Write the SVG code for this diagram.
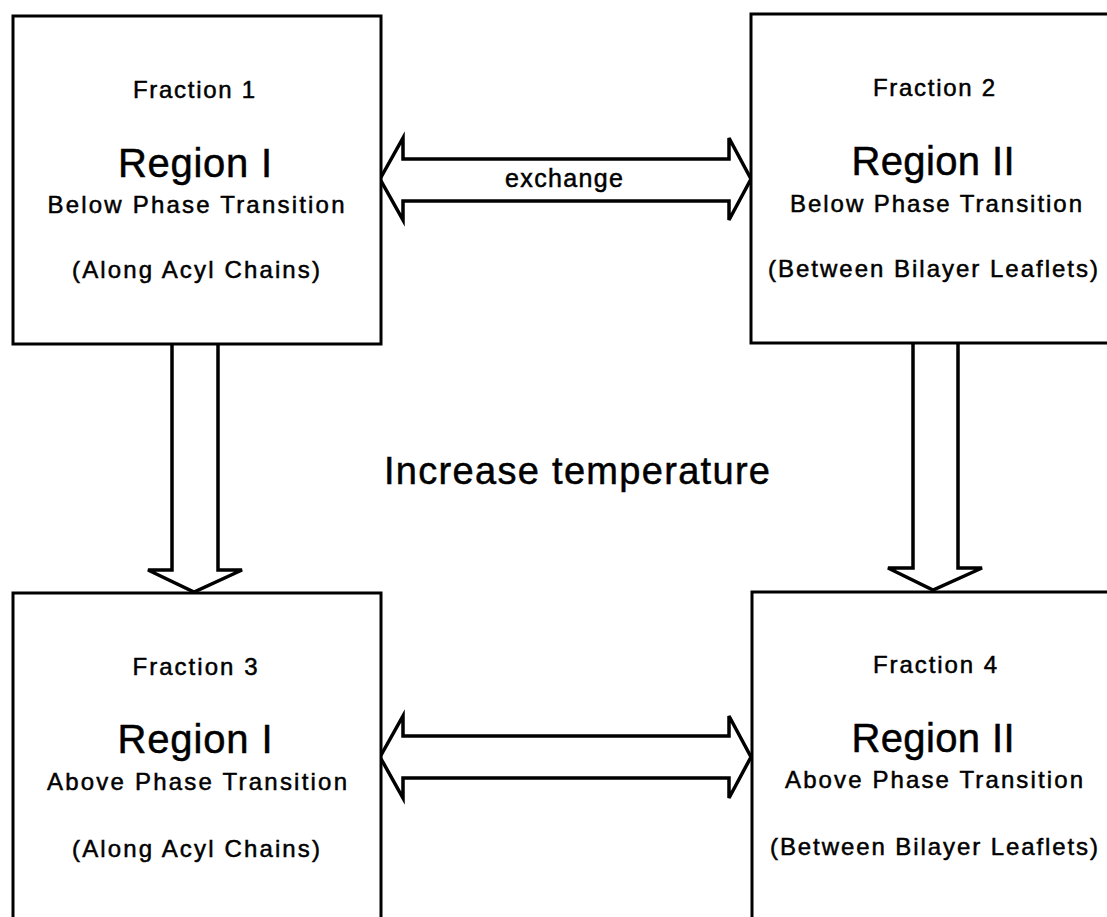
<svg xmlns="http://www.w3.org/2000/svg" width="1107" height="917" viewBox="0 0 1107 917">
  <style>
    .box { fill: #ffffff; stroke: #000000; stroke-width: 3; }
    .arrow { fill: #ffffff; stroke: #000000; stroke-width: 3.5; stroke-linejoin: miter; }
    text { font-family: "Liberation Sans", Arial, Helvetica, sans-serif; fill: #000000; stroke: #000000; stroke-width: 0.5; text-anchor: middle; }
    .frac { font-size: 24px; }
    .region { font-size: 40px; }
    .sub { font-size: 24px; }
    .label { font-size: 25px; }
    .title { font-size: 38px; }
  </style>
  <rect width="1107" height="917" fill="#ffffff"/>

  <!-- connectors: exchange arrows and temperature arrows -->
  <g id="connectors">
    <path class="arrow" d="M380,179 L403,138 L403,159 L729,159 L729,138 L751,179 L729,220 L729,201 L403,201 L403,220 Z"/>
    <path class="arrow" d="M380,757 L403,716 L403,736 L729,736 L729,716 L751,757 L729,798 L729,778 L403,778 L403,798 Z"/>
    <path class="arrow" d="M172,344 L172,570 L148,570 L194,592 L242,570 L218,570 L218,344"/>
    <path class="arrow" d="M913,343 L913,568 L888,568 L933,590 L982,568 L958,568 L958,343"/>
    <text class="label" x="564" y="187" textLength="118" lengthAdjust="spacing">exchange</text>
  </g>

  <text id="temperature-label" class="title" x="577" y="484" textLength="386" lengthAdjust="spacing">Increase temperature</text>

  <!-- Fraction 1 -->
  <g id="fraction1">
    <rect class="box" x="13" y="16" width="368" height="328"/>
    <text class="frac" x="194" y="98" textLength="122" lengthAdjust="spacing">Fraction 1</text>
    <text class="region" x="195" y="177" textLength="154" lengthAdjust="spacing">Region I</text>
    <text class="sub" x="196" y="213" textLength="297" lengthAdjust="spacing">Below Phase Transition</text>
    <text class="sub" x="196" y="278" textLength="248" lengthAdjust="spacing">(Along Acyl Chains)</text>
  </g>

  <!-- Fraction 2 -->
  <g id="fraction2">
    <rect class="box" x="751" y="14" width="380" height="329"/>
    <text class="frac" x="934" y="96" textLength="122" lengthAdjust="spacing">Fraction 2</text>
    <text class="region" x="933" y="175" textLength="163" lengthAdjust="spacing">Region II</text>
    <text class="sub" x="936" y="212" textLength="292" lengthAdjust="spacing">Below Phase Transition</text>
    <text class="sub" x="933" y="277" textLength="330" lengthAdjust="spacing">(Between Bilayer Leaflets)</text>
  </g>

  <!-- Fraction 3 -->
  <g id="fraction3">
    <rect class="box" x="13" y="593" width="368" height="340"/>
    <text class="frac" x="195" y="675" textLength="125" lengthAdjust="spacing">Fraction 3</text>
    <text class="region" x="195" y="753" textLength="155" lengthAdjust="spacing">Region I</text>
    <text class="sub" x="197" y="790" textLength="300" lengthAdjust="spacing">Above Phase Transition</text>
    <text class="sub" x="196" y="857" textLength="248" lengthAdjust="spacing">(Along Acyl Chains)</text>
  </g>

  <!-- Fraction 4 -->
  <g id="fraction4">
    <rect class="box" x="752" y="592" width="380" height="340"/>
    <text class="frac" x="935" y="673" textLength="124" lengthAdjust="spacing">Fraction 4</text>
    <text class="region" x="933" y="752" textLength="163" lengthAdjust="spacing">Region II</text>
    <text class="sub" x="934" y="788" textLength="298" lengthAdjust="spacing">Above Phase Transition</text>
    <text class="sub" x="934" y="855" textLength="328" lengthAdjust="spacing">(Between Bilayer Leaflets)</text>
  </g>
</svg>
